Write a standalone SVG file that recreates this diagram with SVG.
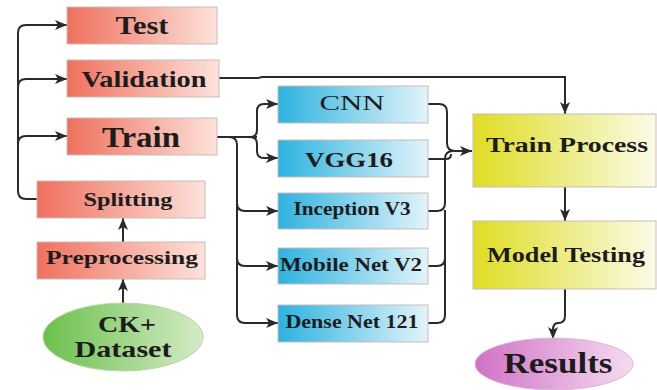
<svg xmlns="http://www.w3.org/2000/svg" width="657" height="390" viewBox="0 0 657 390">
<defs>
<linearGradient id="gRed" x1="0" y1="0" x2="1" y2="0"><stop offset="0" stop-color="#ef705e"/><stop offset="1" stop-color="#fde2da"/></linearGradient>
<linearGradient id="gBlue" x1="0" y1="0" x2="1" y2="0"><stop offset="0" stop-color="#2db2df"/><stop offset="1" stop-color="#e2f4fa"/></linearGradient>
<linearGradient id="gYel" x1="0" y1="0" x2="1" y2="0"><stop offset="0" stop-color="#dedd22"/><stop offset="1" stop-color="#fbfbe8"/></linearGradient>
<linearGradient id="gGreen" x1="0" y1="0" x2="1" y2="0"><stop offset="0" stop-color="#6cc04c"/><stop offset="1" stop-color="#d4ebc6"/></linearGradient>
<linearGradient id="gPurp" x1="0" y1="0" x2="1" y2="0"><stop offset="0" stop-color="#cf72c4"/><stop offset="1" stop-color="#f5dbf0"/></linearGradient>
<marker id="ah" viewBox="0 0 12 10" refX="12" refY="5" markerWidth="12" markerHeight="10" markerUnits="userSpaceOnUse" orient="auto"><path d="M0,0 L12,5 L0,10 L3,5 Z" fill="#2a2a2a"/></marker>
<style>
.box{stroke:#c9bcb8;stroke-width:1}
.t{font-family:"Liberation Serif","Times New Roman",serif;font-weight:bold;fill:#1c1c1c;text-anchor:middle}
.n{font-weight:normal}
.c{fill:none;stroke:#2a2a2a;stroke-width:2}
</style>
</defs>
<g id="connectors">
<path class="c" d="M37,199 H26 Q18,199 18,191 V33 Q18,25 26,25 H67" marker-end="url(#ah)"/>
<path class="c" d="M18,87 Q18,79 26,79 H67" marker-end="url(#ah)"/>
<path class="c" d="M18,144 Q18,136 26,136 H67" marker-end="url(#ah)"/>
<path class="c" d="M123,242 V218" marker-end="url(#ah)"/>
<path class="c" d="M123,303 V279" marker-end="url(#ah)"/>
<path class="c" d="M217,137 H257"/>
<path class="c" d="M250,137 Q257,137 257,130 V111 Q257,104 264,104 H278" marker-end="url(#ah)"/>
<path class="c" d="M250,137 Q257,137 257,144 V151 Q257,158 264,158 H278" marker-end="url(#ah)"/>
<path class="c" d="M229,137 Q237,137 237,145 V315 Q237,323 245,323 H278" marker-end="url(#ah)"/>
<path class="c" d="M237,203 Q237,211 245,211 H278" marker-end="url(#ah)"/>
<path class="c" d="M237,258 Q237,266 245,266 H278" marker-end="url(#ah)"/>
<path class="c" d="M219,78 H258 L262,77 H565 V114" marker-end="url(#ah)"/>
<path class="c" d="M428,104 H439 Q447,104 447,112 V143 Q447,151 455,151 H472" marker-end="url(#ah)"/>
<path class="c" d="M428,159 H446 Q451,159 451,154"/>
<path class="c" d="M428,211 H437 Q445,211 445,203 V159 Q445,151 453,151"/>
<path class="c" d="M428,266 H437 Q445,266 445,258"/>
<path class="c" d="M428,323 H437 Q445,323 445,315 V210"/>
<path class="c" d="M565,187 V221" marker-end="url(#ah)"/>
<path class="c" d="M565,289 V316 Q565,323 558,323 Q553,323 553,330 V339" marker-end="url(#ah)"/>
</g>
<g id="test"><rect class="box" x="67" y="7" width="150" height="37" fill="url(#gRed)"/><text class="t" x="142" y="34" font-size="26" textLength="53" lengthAdjust="spacingAndGlyphs">Test</text></g>
<g id="validation"><rect class="box" x="67" y="60" width="152" height="37" fill="url(#gRed)"/><text class="t" x="144" y="87" font-size="23" textLength="125" lengthAdjust="spacingAndGlyphs">Validation</text></g>
<g id="train"><rect class="box" x="67" y="118" width="150" height="37" fill="url(#gRed)"/><text class="t" x="141" y="147" font-size="30" textLength="78" lengthAdjust="spacingAndGlyphs">Train</text></g>
<g id="splitting"><rect class="box" x="37" y="181" width="168" height="37" fill="url(#gRed)"/><text class="t" x="128" y="206" font-size="19" textLength="89" lengthAdjust="spacingAndGlyphs">Splitting</text></g>
<g id="preprocessing"><rect class="box" x="37" y="242" width="168" height="37" fill="url(#gRed)"/><text class="t" x="122" y="264" font-size="19" textLength="152" lengthAdjust="spacingAndGlyphs">Preprocessing</text></g>
<g id="ckplus"><ellipse cx="123" cy="337" rx="80" ry="34" fill="url(#gGreen)" stroke="#b9d6a8" stroke-width="1"/><text class="t" x="127" y="332" font-size="24" textLength="58" lengthAdjust="spacingAndGlyphs">CK+</text><text class="t" x="123" y="357" font-size="24" textLength="97" lengthAdjust="spacingAndGlyphs">Dataset</text></g>
<g id="cnn"><rect class="box" x="278" y="86" width="150" height="37" fill="url(#gBlue)"/><text class="t n" x="352" y="110" font-size="22" textLength="65" lengthAdjust="spacingAndGlyphs">CNN</text></g>
<g id="vgg16"><rect class="box" x="278" y="140" width="150" height="37" fill="url(#gBlue)"/><text class="t" x="349" y="167" font-size="22" textLength="88" lengthAdjust="spacingAndGlyphs">VGG16</text></g>
<g id="inception"><rect class="box" x="278" y="193" width="150" height="36" fill="url(#gBlue)"/><text class="t" x="352" y="215" font-size="18" textLength="117" lengthAdjust="spacingAndGlyphs">Inception V3</text></g>
<g id="mobilenet"><rect class="box" x="278" y="248" width="150" height="36" fill="url(#gBlue)"/><text class="t" x="351" y="271" font-size="18" textLength="142" lengthAdjust="spacingAndGlyphs">Mobile Net V2</text></g>
<g id="densenet"><rect class="box" x="278" y="305" width="150" height="37" fill="url(#gBlue)"/><text class="t" x="352" y="328" font-size="18" textLength="133" lengthAdjust="spacingAndGlyphs">Dense Net 121</text></g>
<g id="trainprocess"><rect class="box" x="473" y="114" width="183" height="73" fill="url(#gYel)"/><text class="t" x="567" y="152" font-size="22" textLength="162" lengthAdjust="spacingAndGlyphs">Train Process</text></g>
<g id="modeltesting"><rect class="box" x="473" y="221" width="183" height="68" fill="url(#gYel)"/><text class="t" x="566" y="262" font-size="22" textLength="158" lengthAdjust="spacingAndGlyphs">Model Testing</text></g>
<g id="results"><ellipse cx="554" cy="364" rx="79" ry="26" fill="url(#gPurp)" stroke="#dcb8d6" stroke-width="1"/><text class="t" x="558" y="373" font-size="30" textLength="109" lengthAdjust="spacingAndGlyphs">Results</text></g>
</svg>
